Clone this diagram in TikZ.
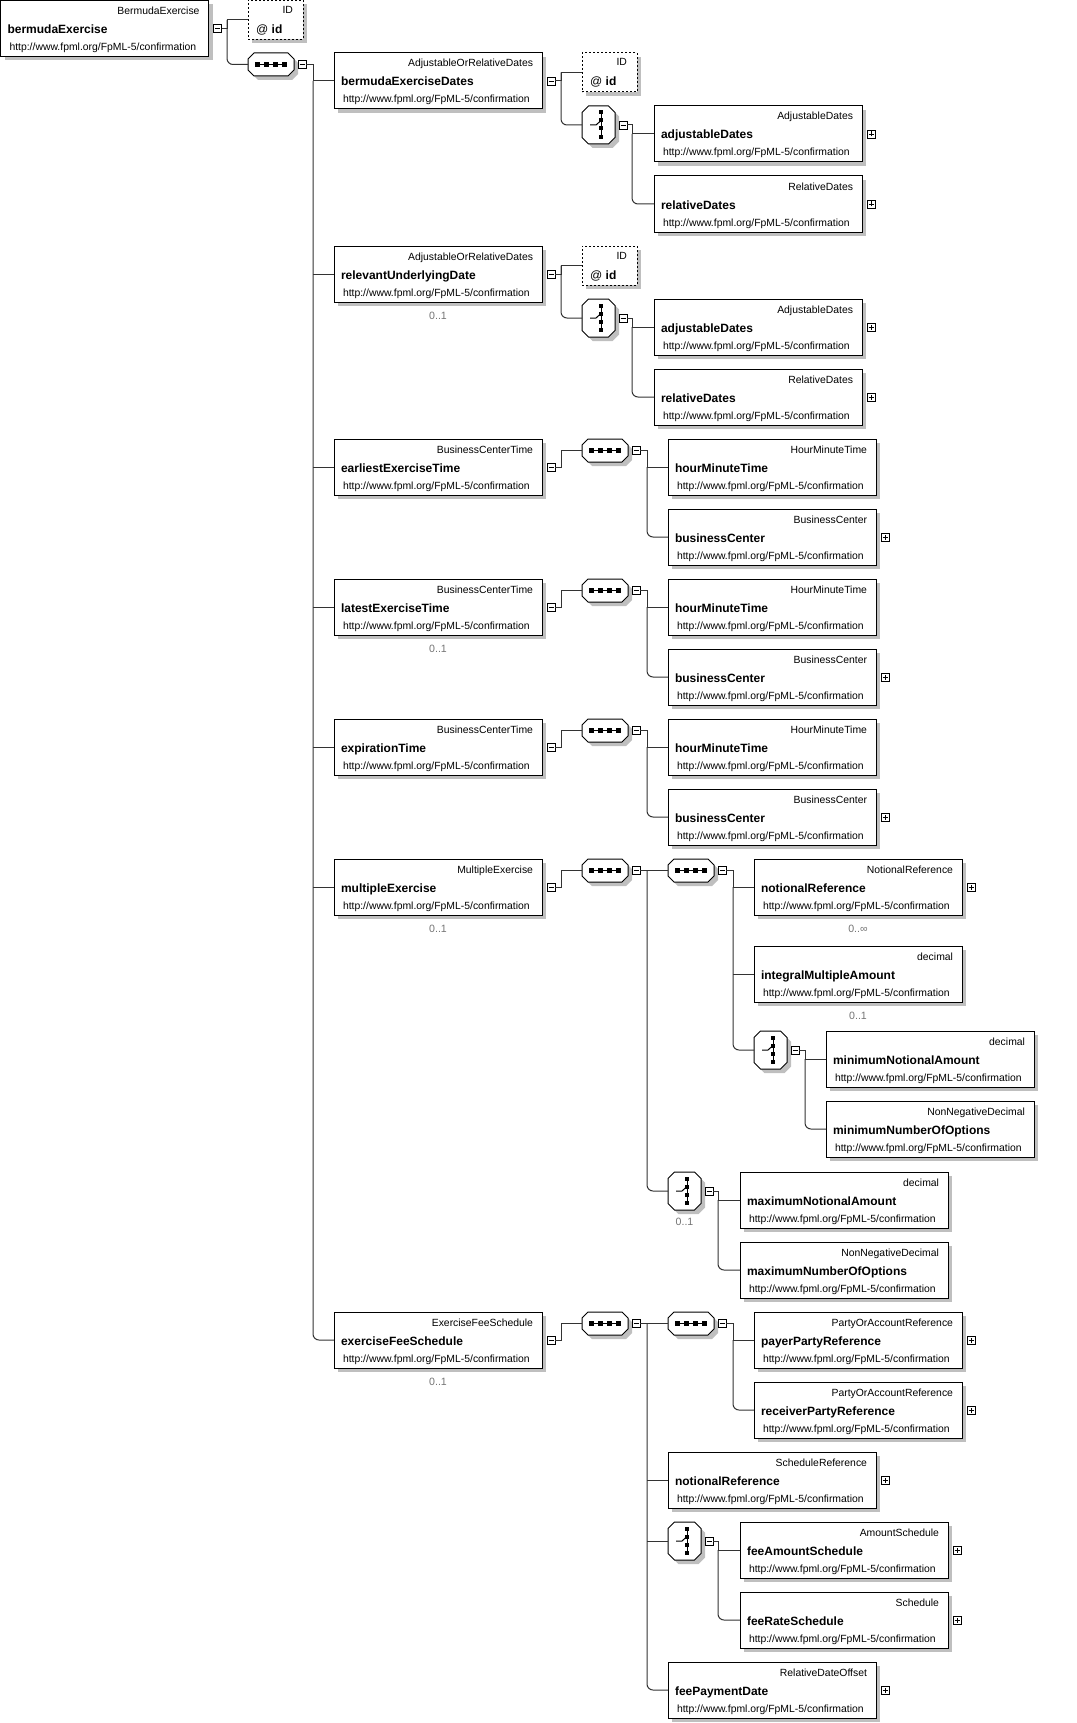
\documentclass[tikz,border=0pt]{standalone}
\usepackage{fontspec}
\setmainfont{Liberation Sans}
\usetikzlibrary{calc}
\tikzset{
  conn/.style={draw=black!80, line width=1pt},
  shd/.style={fill=black!25},
  ebox/.style={draw=black, line width=1pt, fill=white, minimum width=208pt, minimum height=56pt, inner sep=0pt, outer sep=0pt, anchor=north west},
  abox/.style={draw=black, line width=1pt, dash pattern=on 2pt off 2pt, fill=white, minimum width=55pt, minimum height=39pt, inner sep=0pt, outer sep=0pt, anchor=north west},
  hid/.style={inner sep=0pt, outer sep=0pt, anchor=north west},
  typ/.style={font=\fontsize{10.4}{12}\selectfont, inner sep=0pt, outer sep=0pt},
  nm/.style={font=\fontsize{12}{14}\selectfont\bfseries, inner sep=0pt, outer sep=0pt},
  card/.style={font=\fontsize{10.6}{12}\selectfont, text=black!55, inner sep=0pt},
  pmbox/.style={draw=black, line width=0.8pt, fill=white, minimum size=8pt, inner sep=0pt, outer sep=0pt},
  minusb/.style={pmbox, path picture={\draw[line width=0.8pt] ([xshift=-2.5pt]path picture bounding box.center) -- ([xshift=2.5pt]path picture bounding box.center);}},
  plusb/.style={pmbox, path picture={\draw[line width=0.8pt] ([xshift=-2.5pt]path picture bounding box.center) -- ([xshift=2.5pt]path picture bounding box.center) ([yshift=-2.5pt]path picture bounding box.center) -- ([yshift=2.5pt]path picture bounding box.center);}},
}
\newcommand\xelem[5]{%
  \fill[shd] ({#2+4},{#3+4}) rectangle ++(208,56);
  \node[ebox] (#1) at (#2,#3) {};
  \node[typ,anchor=base east] (#1-t) at ([xshift=-9pt,yshift=-14pt]#1.north east) {#4};
  \node[nm,anchor=base west] (#1-n) at ([xshift=7pt,yshift=-33pt]#1.north west) {#5};
  \node[typ,anchor=base west] (#1-u) at ([xshift=9pt,yshift=-50pt]#1.north west) {http://www.fpml.org/FpML-5/confirmation};
}
\newcommand\xminus[2]{\node[minusb] (#1-m) at ([xshift=#2pt]#1.east) {};}
\newcommand\xplus[1]{\node[plusb] (#1-p) at ([xshift=9pt]#1.east) {};}
\newcommand\xattr[3]{%
  \fill[shd] ({#2+4},{#3+4}) rectangle ++(55,39);
  \node[abox] (#1) at (#2,#3) {};
  \node[typ,anchor=base east] (#1-t) at ([xshift=-10pt,yshift=-13pt]#1.north east) {ID};
  \node[anchor=base west,inner sep=0pt,font=\fontsize{12}{14}\selectfont] (#1-n) at ([xshift=8pt,yshift=-33pt]#1.north west) {@ \textbf{id}};
}
\newcommand\xseq[3]{%
  \begin{scope}[shift={(#2,#3)}]
    \fill[shd] (10,4) -- (44,4) -- (50,10) -- (50,21) -- (44,27) -- (10,27) -- (4,21) -- (4,10) -- cycle;
    \filldraw[fill=white,draw=black,line width=1pt] (6,0) -- (40,0) -- (46,6) -- (46,17) -- (40,23) -- (6,23) -- (0,17) -- (0,6) -- cycle;
    \node[hid,minimum width=46pt,minimum height=23pt] (#1) at (0,0) {};
    \draw[line width=1pt] (9.5,11.5) -- (36.5,11.5);
    \foreach \q in {9.5,18.5,27.5,36.5} \fill (\q-2.2,9.3) rectangle (\q+2.2,13.7);
  \end{scope}
  \xminus{#1}{8}
}
\newcommand\xchoice[3]{%
  \begin{scope}[shift={(#2,#3)}]
    \fill[shd] (10.5,4) -- (30.5,4) -- (37,10.5) -- (37,35.5) -- (30.5,42) -- (10.5,42) -- (4,35.5) -- (4,10.5) -- cycle;
    \filldraw[fill=white,draw=black,line width=1pt] (6.5,0) -- (26.5,0) -- (33,6.5) -- (33,31.5) -- (26.5,38) -- (6.5,38) -- (0,31.5) -- (0,6.5) -- cycle;
    \node[hid,minimum width=33pt,minimum height=38pt] (#1) at (0,0) {};
    \draw[line width=1pt] (19,6.5) -- (19,31);
    \draw[line width=1pt] (8,19) -- (14,19) -- (19,14.5);
    \foreach \q in {6.5,14.5,22.5,31} \fill (17,\q-2) rectangle (21,\q+2);
  \end{scope}
  \xminus{#1}{8}
}
\newcommand\xfirst[3]{\draw[conn] (#1.east) -- (#1.east -| #3) -- (#2.west -| #3) -- (#2.west);}
\newcommand\xlast[3]{\draw[conn,rounded corners=6pt] (#1.west -| #3) |- (#2.west);}
\newcommand\xmid[2]{\draw[conn] (#1.west -| #2) -- (#1.west);}
\newcommand\xcard[3]{\node[card] (#1-c) at ([yshift=-#2pt]#1.south) {#3};}
\begin{document}
\begin{tikzpicture}[x=1pt,y=-1pt]
\useasboundingbox (0,0) rectangle (1076,1723);
\coordinate (Ja) at (227,0);
\coordinate (Jb) at (313,0);
\coordinate (Jc) at (561,0);
\coordinate (Jd) at (632,0);
\coordinate (Je) at (647,0);
\coordinate (Jf) at (733,0);
\coordinate (Jg) at (805,0);
\coordinate (Jh) at (718,0);
% root
\xelem{root}{0.5}{0.5}{BermudaExercise}{bermudaExercise}
\xminus{root}{9}
\xattr{rid}{248}{0.5}
\xseq{s1}{248}{53}
\xfirst{root-m}{rid}{Ja}
\xlast{rid}{s1}{Ja}
% main children
\xelem{bed}{334}{53}{AdjustableOrRelativeDates}{bermudaExerciseDates}\xminus{bed}{9}
\xelem{rud}{334}{246}{AdjustableOrRelativeDates}{relevantUnderlyingDate}\xminus{rud}{9}\xcard{rud}{14}{0..1}
\xelem{eet}{334}{439}{BusinessCenterTime}{earliestExerciseTime}\xminus{eet}{9}
\xelem{let}{334}{579}{BusinessCenterTime}{latestExerciseTime}\xminus{let}{9}\xcard{let}{14}{0..1}
\xelem{ext}{334}{719}{BusinessCenterTime}{expirationTime}\xminus{ext}{9}
\xelem{mex}{334}{859}{MultipleExercise}{multipleExercise}\xminus{mex}{9}\xcard{mex}{14}{0..1}
\xelem{efs}{334}{1312}{ExerciseFeeSchedule}{exerciseFeeSchedule}\xminus{efs}{9}\xcard{efs}{14}{0..1}
\xfirst{s1-m}{bed}{Jb}
\xmid{rud}{Jb}\xmid{eet}{Jb}\xmid{let}{Jb}\xmid{ext}{Jb}\xmid{mex}{Jb}
\xlast{bed}{efs}{Jb}
% block 1
\xattr{bedid}{582}{53}
\xchoice{bedch}{582}{106}
\xfirst{bed-m}{bedid}{Jc}\xlast{bedid}{bedch}{Jc}
\xelem{adj1}{654}{106}{AdjustableDates}{adjustableDates}\xplus{adj1}
\xelem{rel1}{654}{176}{RelativeDates}{relativeDates}\xplus{rel1}
\xfirst{bedch-m}{adj1}{Jd}\xlast{adj1}{rel1}{Jd}
% block 2
\xattr{rudid}{582}{246}
\xchoice{rudch}{582}{299}
\xfirst{rud-m}{rudid}{Jc}\xlast{rudid}{rudch}{Jc}
\xelem{adj2}{654}{299}{AdjustableDates}{adjustableDates}\xplus{adj2}
\xelem{rel2}{654}{369}{RelativeDates}{relativeDates}\xplus{rel2}
\xfirst{rudch-m}{adj2}{Jd}\xlast{adj2}{rel2}{Jd}
% block 3
\xseq{eetsq}{582}{439}
\xfirst{eet-m}{eetsq}{Jc}
\xelem{hmt1}{668}{439}{HourMinuteTime}{hourMinuteTime}
\xelem{bc1}{668}{509}{BusinessCenter}{businessCenter}\xplus{bc1}
\xfirst{eetsq-m}{hmt1}{Je}\xlast{hmt1}{bc1}{Je}
% block 4
\xseq{letsq}{582}{579}
\xfirst{let-m}{letsq}{Jc}
\xelem{hmt2}{668}{579}{HourMinuteTime}{hourMinuteTime}
\xelem{bc2}{668}{649}{BusinessCenter}{businessCenter}\xplus{bc2}
\xfirst{letsq-m}{hmt2}{Je}\xlast{hmt2}{bc2}{Je}
% block 5
\xseq{extsq}{582}{719}
\xfirst{ext-m}{extsq}{Jc}
\xelem{hmt3}{668}{719}{HourMinuteTime}{hourMinuteTime}
\xelem{bc3}{668}{789}{BusinessCenter}{businessCenter}\xplus{bc3}
\xfirst{extsq-m}{hmt3}{Je}\xlast{hmt3}{bc3}{Je}
% block 6
\xseq{sqA}{582}{859}
\xseq{sqB}{668}{859}
\xfirst{mex-m}{sqA}{Jc}
\xelem{nref}{754}{859}{NotionalReference}{notionalReference}\xplus{nref}\xcard{nref}{14}{0..∞}
\xelem{ima}{754}{946}{decimal}{integralMultipleAmount}\xcard{ima}{14}{0..1}
\xchoice{chC}{754}{1031}
\xelem{mna}{826}{1031}{decimal}{minimumNotionalAmount}
\xelem{mno}{826}{1101}{NonNegativeDecimal}{minimumNumberOfOptions}
\xchoice{chD}{668}{1172}\xcard{chD}{12}{0..1}
\xelem{xna}{740}{1172}{decimal}{maximumNotionalAmount}
\xelem{xno}{740}{1242}{NonNegativeDecimal}{maximumNumberOfOptions}
\xfirst{sqA-m}{sqB}{Je}\xlast{sqB}{chD}{Je}
\xfirst{sqB-m}{nref}{Jf}\xmid{ima}{Jf}\xlast{nref}{chC}{Jf}
\xfirst{chC-m}{mna}{Jg}\xlast{mna}{mno}{Jg}
\xfirst{chD-m}{xna}{Jh}\xlast{xna}{xno}{Jh}
% block 7
\xseq{sqE}{582}{1312}
\xseq{sqF}{668}{1312}
\xfirst{efs-m}{sqE}{Jc}
\xelem{payer}{754}{1312}{PartyOrAccountReference}{payerPartyReference}\xplus{payer}
\xelem{recv}{754}{1382}{PartyOrAccountReference}{receiverPartyReference}\xplus{recv}
\xelem{nref2}{668}{1452}{ScheduleReference}{notionalReference}\xplus{nref2}
\xchoice{chG}{668}{1522}
\xelem{fam}{740}{1522}{AmountSchedule}{feeAmountSchedule}\xplus{fam}
\xelem{frs}{740}{1592}{Schedule}{feeRateSchedule}\xplus{frs}
\xelem{fpd}{668}{1662}{RelativeDateOffset}{feePaymentDate}\xplus{fpd}
\xfirst{sqE-m}{sqF}{Je}\xmid{nref2}{Je}\xmid{chG}{Je}\xlast{sqF}{fpd}{Je}
\xfirst{sqF-m}{payer}{Jf}\xlast{payer}{recv}{Jf}
\xfirst{chG-m}{fam}{Jh}\xlast{fam}{frs}{Jh}
\end{tikzpicture}
\end{document}
